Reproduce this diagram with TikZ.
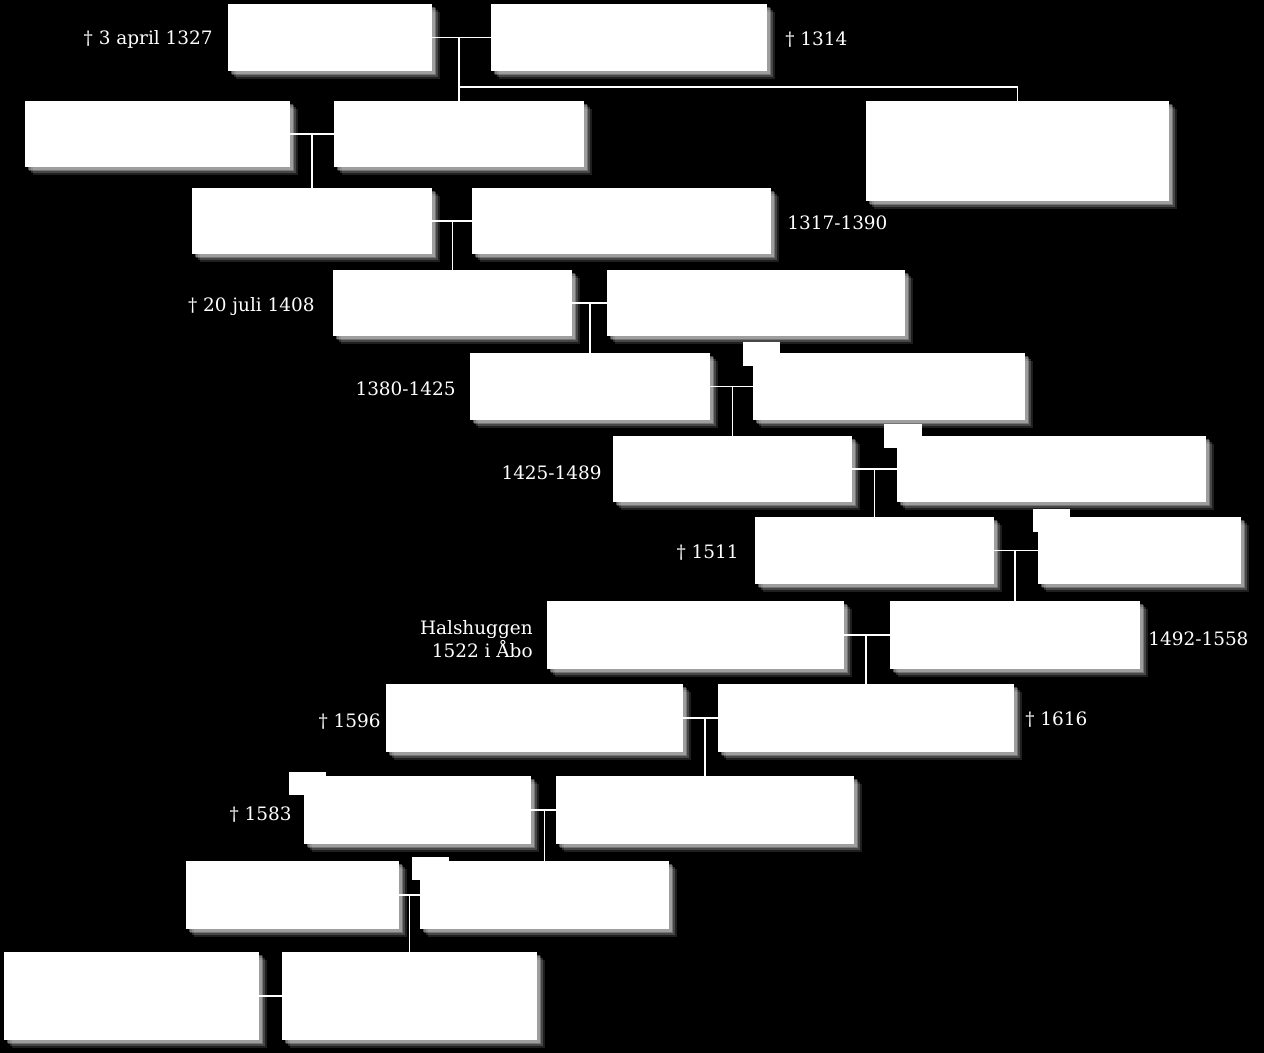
\documentclass[tikz,border=0pt]{standalone}
\usepackage{fontspec}
\setmainfont{DejaVu Serif}
\usetikzlibrary{fit,shadows,calc}

\tikzset{
  person/.style={draw=none, fill=white, inner sep=0pt,
    general shadow={shadow xshift=4.5pt, shadow yshift=-4.5pt, fill=white, opacity=0.12},
    general shadow={shadow xshift=3.5pt, shadow yshift=-3.5pt, fill=white, opacity=0.18},
    general shadow={shadow xshift=2.5pt, shadow yshift=-2.5pt, fill=white, opacity=0.25},
    general shadow={shadow xshift=1.5pt, shadow yshift=-1.5pt, fill=white, opacity=0.3}},
  link/.style={draw=white, line width=1pt},
  date/.style={text=white, inner sep=0pt, yshift=-1pt, font=\fontsize{10.5}{13}\selectfont},
  tab/.style={fill=white}
}

\begin{document}
\begin{tikzpicture}[x=0.02cm, y=-0.02cm]
  % background
  \fill[black] (0,0) rectangle (1264,1053);
  \useasboundingbox (0,0) rectangle (1264,1053);

  % generation 1
  \node[person, fit={(228,4) (432,71)}] (p1a) {};
  \node[person, fit={(491,4) (767,71)}] (p1b) {};
  \node[date, anchor=east] (d1a) at (213,38) {† 3 april 1327};
  \node[date, anchor=west] (d1b) at (785,38) {† 1314};

  % generation 2
  \node[person, fit={(25,101) (290,167)}] (p2a) {};
  \node[person, fit={(334,101) (584,167)}] (p2b) {};
  \node[person, fit={(866,101) (1169,201)}] (p2c) {};

  % generation 3
  \node[person, fit={(192,188) (432,254)}] (p3a) {};
  \node[person, fit={(472,188) (771,254)}] (p3b) {};
  \node[date, anchor=west] (d3b) at (787,221) {1317-1390};

  % generation 4
  \node[person, fit={(333,270) (572,336)}] (p4a) {};
  \node[person, fit={(607,270) (905,336)}] (p4b) {};
  \node[date, anchor=east] (d4a) at (315,305) {† 20 juli 1408};

  % generation 5
  \node[person, fit={(470,353) (710,420)}] (p5a) {};
  \node[person, fit={(753,353) (1025,420)}] (p5b) {};
  \node[date, anchor=east] (d5a) at (456,387) {1380-1425};

  % generation 6
  \node[person, fit={(613,436) (852,502)}] (p6a) {};
  \node[person, fit={(897,436) (1206,502)}] (p6b) {};
  \node[date, anchor=east] (d6a) at (602,471) {1425-1489};

  % generation 7
  \node[person, fit={(755,517) (994,584)}] (p7a) {};
  \node[person, fit={(1038,517) (1241,584)}] (p7b) {};
  \node[date, anchor=east] (d7a) at (739,551) {† 1511};

  % generation 8
  \node[person, fit={(547,601) (844,669)}] (p8a) {};
  \node[person, fit={(890,601) (1140,669)}] (p8b) {};
  \node[date, anchor=east, align=right] (d8a) at (533,637) {Halshuggen\\1522 i Åbo};
  \node[date, anchor=west] (d8b) at (1148,637) {1492-1558};

  % generation 9
  \node[person, fit={(386,684) (683,752)}] (p9a) {};
  \node[person, fit={(718,684) (1014,752)}] (p9b) {};
  \node[date, anchor=east] (d9a) at (381,720) {† 1596};
  \node[date, anchor=west] (d9b) at (1025,718) {† 1616};

  % generation 10
  \node[person, fit={(304,776) (531,844)}] (p10a) {};
  \node[person, fit={(556,776) (854,844)}] (p10b) {};
  \node[date, anchor=east] (d10a) at (292,813) {† 1583};

  % generation 11
  \node[person, fit={(186,861) (399,929)}] (p11a) {};
  \node[person, fit={(420,861) (669,929)}] (p11b) {};

  % generation 12
  \node[person, fit={(4,952) (259,1040)}] (p12a) {};
  \node[person, fit={(282,952) (537,1040)}] (p12b) {};

  % small tabs
  \fill[tab] (743,342) rectangle (780,366);
  \fill[tab] (884,424) rectangle (922,448);
  \fill[tab] (1033,509) rectangle (1070,532);
  \fill[tab] (289,772) rectangle (326,795);
  \fill[tab] (412,857) rectangle (449,880);

  % couples and descent
  \coordinate (split) at (459,87);
  \draw[link] (p1a.east) -- (p1b.west);
  \draw[link] (p2b.north) -- (p2b.north |- p1a.east);
  \draw[link] (split) -| (p2c.north);

  \draw[link] (p2a.east) -- (p2b.west);
  \draw[link] (p3a.north) -- (p3a.north |- p2a.east);

  \draw[link] (p3a.east) -- (p3b.west);
  \draw[link] (p4a.north) -- (p4a.north |- p3a.east);

  \draw[link] (p4a.east) -- (p4b.west);
  \draw[link] (p5a.north) -- (p5a.north |- p4a.east);

  \draw[link] (p5a.east) -- (p5b.west);
  \draw[link] (p6a.north) -- (p6a.north |- p5a.east);

  \draw[link] (p6a.east) -- (p6b.west);
  \draw[link] (p7a.north) -- (p7a.north |- p6a.east);

  \draw[link] (p7a.east) -- (p7b.west);
  \draw[link] (p8b.north) -- (p8b.north |- p7a.east);

  \draw[link] (p8a.east) -- (p8b.west);
  \draw[link] (p9b.north) -- (p9b.north |- p8a.east);

  \draw[link] (p9a.east) -- (p9b.west);
  \draw[link] (p10b.north) -- (p10b.north |- p9a.east);

  \draw[link] (p10a.east) -- (p10b.west);
  \draw[link] (p11b.north) -- (p11b.north |- p10a.east);

  \draw[link] (p11a.east) -- (p11b.west);
  \draw[link] (p12b.north) -- (p12b.north |- p11a.east);

  \draw[link] (p12a.east) -- (p12b.west);
\end{tikzpicture}
\end{document}
